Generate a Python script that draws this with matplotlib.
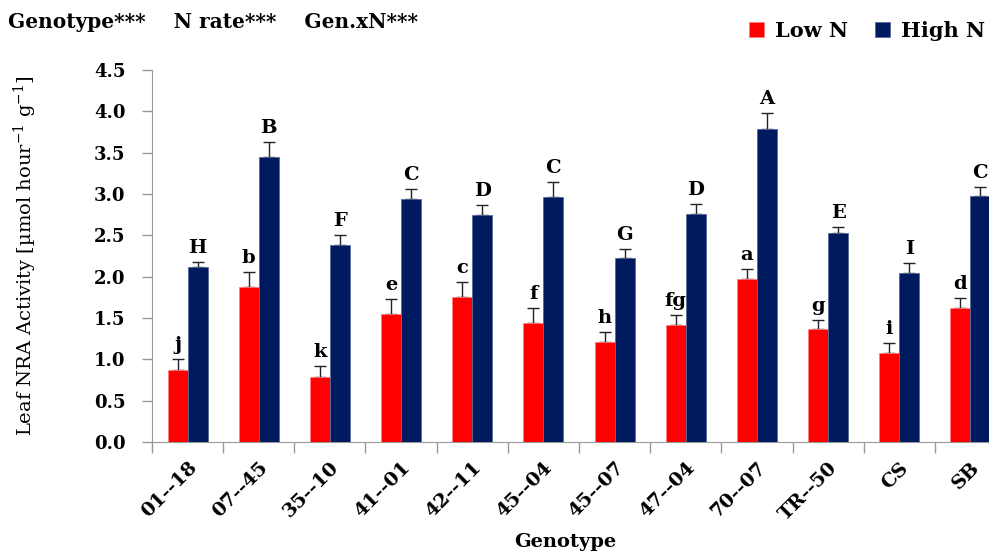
import numpy as np
import matplotlib
matplotlib.use("Agg")
import matplotlib.pyplot as plt

plt.rcParams['font.family'] = ['DejaVu Serif']
plt.rcParams['mathtext.fontset'] = 'dejavuserif'

genotypes = ['01--18', '07--45', '35--10', '41--01', '42--11', '45--04',
             '45--07', '47--04', '70--07', 'TR--50', 'CS', 'SB']
low_n = [0.87, 1.87, 0.79, 1.55, 1.76, 1.44, 1.21, 1.41, 1.97, 1.37, 1.08, 1.62]
low_err = [0.13, 0.19, 0.13, 0.18, 0.18, 0.18, 0.12, 0.13, 0.12, 0.11, 0.12, 0.12]
high_n = [2.12, 3.45, 2.38, 2.94, 2.75, 2.96, 2.22, 2.76, 3.79, 2.53, 2.05, 2.97]
high_err = [0.06, 0.18, 0.13, 0.12, 0.12, 0.19, 0.12, 0.12, 0.19, 0.07, 0.12, 0.12]
low_letters = ['j', 'b', 'k', 'e', 'c', 'f', 'h', 'fg', 'a', 'g', 'i', 'd']
high_letters = ['H', 'B', 'F', 'C', 'D', 'C', 'G', 'D', 'A', 'E', 'I', 'C']

RED = '#ff0000'
BLUE = '#001a5f'

fig = plt.figure(figsize=(9.89, 5.56), dpi=100)
ax = fig.add_axes([152/989, 114/556, (1006-152)/989, (486-114)/556])

x = np.arange(len(genotypes))
w = 0.28

ax.bar(x - w/2, low_n, w, color=RED, edgecolor='#ff8080', linewidth=0.6, zorder=3, label='Low N')
ax.bar(x + w/2, high_n, w, color=BLUE, edgecolor='#5a6a9a', linewidth=0.6, zorder=3, label='High N')

ax.errorbar(x - w/2, low_n, yerr=[np.zeros(len(x)), low_err], fmt='none',
            ecolor='#222222', elinewidth=1.0, capsize=4, capthick=1.0, zorder=2)
ax.errorbar(x + w/2, high_n, yerr=[np.zeros(len(x)), high_err], fmt='none',
            ecolor='#222222', elinewidth=1.0, capsize=4, capthick=1.0, zorder=2)

for i in range(len(x)):
    ax.text(x[i] - w/2, low_n[i] + low_err[i] + 0.06, low_letters[i], ha='center', va='bottom',
            fontsize=14, fontweight='bold')
    ax.text(x[i] + w/2, high_n[i] + high_err[i] + 0.06, high_letters[i], ha='center', va='bottom',
            fontsize=14, fontweight='bold')

ax.set_xlim(-0.5, len(x) - 0.5)
ax.set_ylim(0, 4.5)
ax.set_yticks(np.arange(0, 4.51, 0.5))
ax.set_yticklabels(['%.1f' % v for v in np.arange(0, 4.51, 0.5)], fontsize=13, fontweight='bold')

ax.set_xticks(x)
ax.set_xticklabels(genotypes, rotation=45, ha='right', rotation_mode='anchor',
                   fontsize=14, fontweight='bold')
ax.set_xticks(np.arange(-0.5, len(x), 1), minor=True)
ax.tick_params(axis='x', which='major', length=0, pad=12)
ax.tick_params(axis='x', which='minor', length=8, color='#999999', width=1)
ax.tick_params(axis='y', length=7, color='#999999', width=1, pad=12)

for s in ['top', 'right']:
    ax.spines[s].set_visible(False)
for s in ['left', 'bottom']:
    ax.spines[s].set_color('#999999')

ax.set_ylabel('Leaf NRA Activity [µmol hour$^{\\mathregular{-1}}$ g$^{\\mathregular{-1}}$]', fontsize=14)
ax.yaxis.set_label_coords(-113/854, 0.5)
ax.set_xlabel('Genotype', fontsize=14, fontweight='bold')
ax.xaxis.label.set_va('center')
ax.xaxis.set_label_coords(565/854 - 152/854, -(542-442)/372)

fig.text(8/989, 1 - 22/556, 'Genotype***    N rate***    Gen.xN***', fontsize=14.5,
         fontweight='bold', va='center', ha='left')

ax.legend(loc='center right', bbox_to_anchor=(985/989, 1 - 31/556), bbox_transform=fig.transFigure,
          ncol=2, frameon=False, prop={'size': 15, 'weight': 'bold'},
          handlelength=0.75, handleheight=0.75, columnspacing=1.3, handletextpad=0.5,
          borderpad=0, borderaxespad=0)

fig.savefig('out.png', dpi=100)
